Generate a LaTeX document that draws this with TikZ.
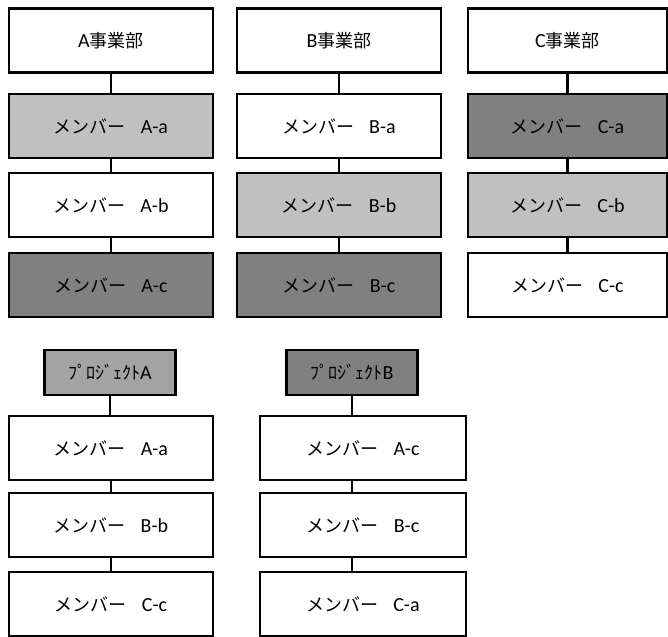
\documentclass[tikz,border=0pt]{standalone}
\usepackage{fontspec}
\setmainfont{Carlito}
\newfontfamily\jpfont[Scale=0.9]{Noto Sans CJK JP}

\definecolor{lgrey}{RGB}{192,192,192}
\definecolor{mgrey}{RGB}{163,163,163}
\definecolor{dgrey}{RGB}{128,128,128}

\newcommand{\memb}[1]{{\jpfont メンバー}\hspace{15pt}#1}

\begin{document}
\begin{tikzpicture}[x=1pt,y=-1pt]
        \useasboundingbox (0,0) rectangle (668,636);

        \begin{scope}[every node/.style={draw,line width=2.4pt,inner sep=0pt,
            minimum width=204pt,minimum height=64pt,font=\fontsize{20}{24}\selectfont}]
          % divisions
          \node (a0)  at (111,40.5)  {A{\jpfont 事業部}};
          \node (a1)  at (111,126)   [fill=lgrey] {\memb{A-a}};
          \node (a2)  at (111,205)   {\memb{A-b}};
          \node (a3)  at (111,285)   [fill=dgrey] {\memb{A-c}};

          \node (b0)  at (339,40.5)  {B{\jpfont 事業部}};
          \node (b1)  at (339,126)   {\memb{B-a}};
          \node (b2)  at (339,205)   [fill=lgrey] {\memb{B-b}};
          \node (b3)  at (339,285)   [fill=dgrey] {\memb{B-c}};

          \begin{scope}[every node/.append style={minimum width=199pt}]
            \node (c0)  at (567.5,40.5) {C{\jpfont 事業部}};
            \node (c1)  at (567.5,126)  [fill=dgrey] {\memb{C-a}};
            \node (c2)  at (567.5,205)  [fill=lgrey] {\memb{C-b}};
            \node (c3)  at (567.5,285)  {\memb{C-c}};
          \end{scope}

          % projects
          \begin{scope}[every node/.append style={minimum width=131pt,minimum height=45pt}]
            \node (pa)  at (110,372.5) [fill=mgrey] {{\jpfont ﾌﾟﾛｼﾞｪｸﾄ}A};
            \node (pb)  at (352,372.5) [fill=dgrey] {{\jpfont ﾌﾟﾛｼﾞｪｸﾄ}B};
          \end{scope}

          \node (pa1) at (111,448)   {\memb{A-a}};
          \node (pa2) at (111,525)   {\memb{B-b}};
          \node (pa3) at (111,604)   {\memb{C-c}};

          \begin{scope}[every node/.append style={minimum width=206pt}]
            \node (pb1) at (363,448)   {\memb{A-c}};
            \node (pb2) at (363,525)   {\memb{B-c}};
            \node (pb3) at (363,604)   {\memb{C-a}};
          \end{scope}
        \end{scope}

        \begin{scope}[every edge/.style={draw,line width=2.4pt}]
          \path (a0)  edge (a1);
          \path (a1)  edge (a2);
          \path (a2)  edge (a3);
          \path (b0)  edge (b1);
          \path (b1)  edge (b2);
          \path (b2)  edge (b3);
          \path (c0)  edge (c1);
          \path (c1)  edge (c2);
          \path (c2)  edge (c3);
          \path (pa.south)  edge (pa.south |- pa1.north);
          \path (pa1) edge (pa2);
          \path (pa2) edge (pa3);
          \path (pb.south)  edge (pb.south |- pb1.north);
          \path (pb1.south -| pb.south) edge (pb.south |- pb2.north);
          \path (pb2.south -| pb.south) edge (pb.south |- pb3.north);
        \end{scope}

      \end{tikzpicture}
\end{document}
